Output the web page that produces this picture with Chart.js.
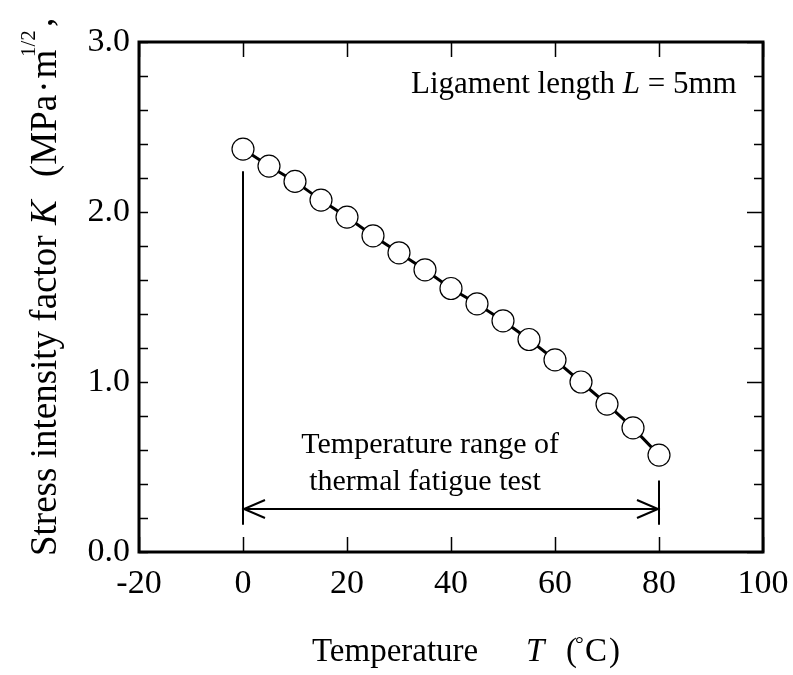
<!DOCTYPE html>
<html><head><meta charset="utf-8">
<script src="https://cdn.jsdelivr.net/npm/chart.js@4.4.0/dist/chart.umd.min.js"></script>
<style>html,body{margin:0;padding:0;background:#fff}#wrap{width:793px;height:675px}</style>
</head><body><div id="wrap"><canvas id="c" width="793" height="675"></canvas></div>
<script>
// ---- data ----
const temperatures = [0, 5, 10, 15, 20, 25, 30, 35, 40, 45, 50, 55, 60, 65, 70, 75, 80];
const kValues = [2.37, 2.27, 2.18, 2.07, 1.97, 1.86, 1.76, 1.66, 1.55, 1.46, 1.36, 1.25, 1.13, 1.00, 0.87, 0.73, 0.57];
const xTickValues = [-20, 0, 20, 40, 60, 80, 100];
const yTickLabels = ['0.0', '1.0', '2.0', '3.0'];
const rangeTemps = [0, 80];          // thermal fatigue test range
const rangeLineTops = [2.24, 0.42];  // top of the vertical marker lines (K)
const rangeLineBottom = 0.16;
const arrowK = 0.253;
const noteLines = ['Temperature range of', 'thermal fatigue test'];
const noteX = [36, 35];
const noteK = [0.582, 0.365];

const SERIF = '"Liberation Serif","Times New Roman",serif';

const overlay = {
  id: 'overlay',
  beforeDatasetsDraw(chart) {
    const {ctx, scales: {x, y}} = chart;
    ctx.save();
    ctx.strokeStyle = '#000';
    ctx.lineWidth = 2;
    rangeTemps.forEach((t, i) => {
      const px = x.getPixelForValue(t);
      ctx.beginPath();
      ctx.moveTo(px, y.getPixelForValue(rangeLineTops[i]));
      ctx.lineTo(px, y.getPixelForValue(rangeLineBottom));
      ctx.stroke();
    });
    const x0 = x.getPixelForValue(rangeTemps[0]), x1 = x.getPixelForValue(rangeTemps[1]);
    const py = y.getPixelForValue(arrowK);
    ctx.beginPath();
    ctx.moveTo(x0, py); ctx.lineTo(x1, py);
    ctx.moveTo(x0 + 22, py - 9); ctx.lineTo(x0 + 1, py); ctx.lineTo(x0 + 22, py + 9);
    ctx.moveTo(x1 - 22, py - 9); ctx.lineTo(x1 - 1, py); ctx.lineTo(x1 - 22, py + 9);
    ctx.stroke();
    ctx.fillStyle = '#000';
    ctx.font = '30px ' + SERIF;
    ctx.textAlign = 'center';
    ctx.textBaseline = 'alphabetic';
    noteLines.forEach((s, i) => ctx.fillText(s, x.getPixelForValue(noteX[i]), y.getPixelForValue(noteK[i])));
    ctx.restore();
  },
  afterDraw(chart) {
    const {ctx, chartArea: a, scales: {x, y}} = chart;
    ctx.save();
    ctx.strokeStyle = '#000';
    ctx.lineWidth = 1.5;
    y.ticks.forEach(t => {
      const py = Math.round(y.getPixelForValue(t.value)) + 0.5;
      const major = Math.abs(t.value - Math.round(t.value)) < 1e-6;
      ctx.beginPath();
      ctx.moveTo(a.left, py); ctx.lineTo(a.left + 9, py);
      ctx.moveTo(a.right, py); ctx.lineTo(a.right - (major ? 16 : 9), py);
      ctx.stroke();
    });
    x.ticks.forEach(t => {
      const px = Math.round(x.getPixelForValue(t.value)) + 0.5;
      ctx.beginPath();
      ctx.moveTo(px, a.top); ctx.lineTo(px, a.top + 15);
      ctx.moveTo(px, a.bottom); ctx.lineTo(px, a.bottom - 15);
      ctx.stroke();
    });
    ctx.lineWidth = 3;
    ctx.strokeRect(a.left, a.top, a.right - a.left, a.bottom - a.top);

    ctx.fillStyle = '#000';
    ctx.textBaseline = 'alphabetic';
    ctx.textAlign = 'left';
    // ligament note
    const up = '31px ' + SERIF, it = 'italic 31px ' + SERIF;
    let lx = 411; const ly = 93;
    ctx.font = up; ctx.fillText('Ligament length ', lx, ly); lx += ctx.measureText('Ligament length ').width;
    ctx.font = it; ctx.fillText('L', lx, ly); lx += ctx.measureText('L').width;
    ctx.font = up; ctx.fillText(' = 5mm', lx, ly);

    // x title
    const tf = '33px ' + SERIF, tfi = 'italic 33px ' + SERIF;
    const tyb = 661;
    ctx.font = tf; ctx.fillText('Temperature', 312, tyb);
    ctx.font = tfi; ctx.fillText('T', 526, tyb);
    ctx.font = tf; ctx.fillText('(', 566, tyb);
    ctx.font = '22px ' + SERIF; ctx.fillText('\u00B0', 575, tyb - 10);
    ctx.font = tf; ctx.fillText('C', 585, tyb);
    ctx.fillText(')', 609, tyb);

    // y title (rotated)
    ctx.translate(56, 556);
    ctx.rotate(-Math.PI / 2);
    const yf = '37px ' + SERIF, yfi = 'italic 37px ' + SERIF;
    ctx.font = yf; ctx.fillText('Stress intensity factor', 0, 0);
    ctx.font = yfi; ctx.fillText('K', 331, 0);
    ctx.font = yf; ctx.fillText('(MPa', 379, 0);
    let p = 379 + ctx.measureText('(MPa').width;
    ctx.fillText('\u00B7', p + 2, 0); p += ctx.measureText('\u00B7').width + 4;
    ctx.fillText('m', p, 0);
    ctx.font = '21px ' + SERIF; ctx.fillText('1/2', 499, -21);
    ctx.font = yf; ctx.fillText(',', 529, -4);
    ctx.restore();
  }
};

new Chart(document.getElementById('c'), {
  type: 'scatter',
  data: {
    datasets: [{
      data: temperatures.map((t, i) => ({x: t, y: kValues[i]})),
      showLine: true,
      borderColor: '#000',
      borderWidth: 3,
      pointRadius: 11,
      pointHoverRadius: 11,
      pointBackgroundColor: '#fff',
      pointBorderColor: '#000',
      pointBorderWidth: 1.2
    }]
  },
  options: {
    responsive: false,
    animation: false,
    devicePixelRatio: 1,
    layout: {padding: {top: 42, right: 30, left: 0, bottom: 0}},
    plugins: {legend: {display: false}, tooltip: {enabled: false}},
    scales: {
      x: {
        type: 'linear', min: -20, max: 100,
        afterBuildTicks: s => { s.ticks = xTickValues.map(v => ({value: v})); },
        afterFit: s => { s.height = 123; s.paddingLeft = 0; s.paddingRight = 0; },
        grid: {display: false, drawTicks: false},
        border: {display: false},
        ticks: {color: '#000', padding: 12, font: {family: SERIF, size: 34}, maxRotation: 0, autoSkip: false}
      },
      y: {
        type: 'linear', min: 0, max: 3,
        ticks: {
          stepSize: 0.2, autoSkip: false, color: '#000', padding: 9,
          font: {family: SERIF, size: 34},
          callback: v => {
            const r = Math.round(v);
            return Math.abs(v - r) < 1e-6 ? yTickLabels[r] : '';
          }
        },
        afterFit: s => { s.width = 139; s.paddingTop = 0; s.paddingBottom = 0; },
        grid: {display: false, drawTicks: false},
        border: {display: false}
      }
    }
  },
  plugins: [overlay]
});
</script>
</body></html>
